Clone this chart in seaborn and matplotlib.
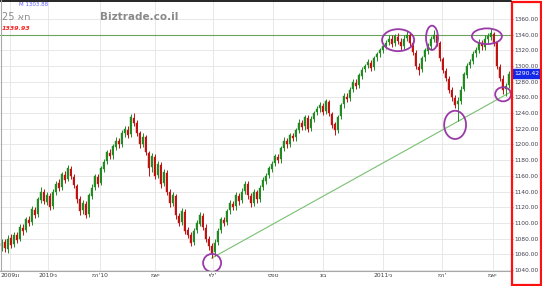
import matplotlib
matplotlib.use("Agg")
import matplotlib.pyplot as plt
from matplotlib.patches import Ellipse, Rectangle
import numpy as np
import pandas as pd
import seaborn as sns

# ---------------- data ----------------
opens = [
    1070,1076,1067,1081,1073,1084,1080,1094,1091,1104,
    1101,1117,1111,1129,1139,1127,1134,1121,1139,1151,
    1146,1161,1156,1169,1159,1147,1131,1116,1124,1111,
    1134,1146,1159,1151,1169,1179,1189,1186,1197,1204,
    1201,1214,1219,1213,1234,1227,1214,1201,1209,1189,
    1171,1184,1161,1174,1151,1164,1139,1126,1134,1109,
    1101,1114,1091,1084,1076,1091,1099,1109,1094,1079,
    1071,1063,1076,1091,1104,1101,1116,1124,1121,1134,
    1129,1141,1149,1134,1126,1139,1131,1146,1154,1161,
    1169,1176,1184,1181,1196,1204,1201,1211,1209,1219,
    1227,1223,1234,1221,1233,1241,1246,1249,1243,1254,
    1239,1226,1219,1236,1251,1261,1259,1271,1279,1276,
    1287,1296,1301,1304,1299,1311,1316,1321,1326,1331,
    1334,1329,1337,1331,1326,1336,1339,1329,1317,1299,
    1296,1311,1319,1326,1334,1339,1329,1309,1294,1284,
    1269,1259,1251,1256,1271,1289,1301,1306,1316,1321,
    1329,1324,1334,1337,1341,1329,1299,1284,1271,1276,
]
closes = [
    1075,1068,1080,1072,1085,1078,1095,1090,1105,1100,
    1118,1110,1130,1140,1128,1135,1120,1140,1150,1145,
    1162,1155,1170,1160,1148,1130,1115,1125,1110,1135,
    1145,1160,1150,1170,1178,1190,1185,1198,1205,1200,
    1215,1220,1212,1235,1228,1215,1200,1210,1190,1170,
    1185,1160,1175,1150,1165,1140,1125,1135,1110,1100,
    1115,1090,1085,1075,1090,1100,1110,1095,1080,1070,
    1062,1075,1090,1105,1100,1115,1125,1120,1135,1128,
    1140,1150,1135,1125,1140,1130,1145,1155,1160,1170,
    1175,1185,1180,1195,1205,1200,1212,1208,1218,1228,
    1222,1235,1220,1232,1240,1245,1250,1242,1255,1240,
    1225,1218,1235,1250,1262,1258,1270,1280,1275,1288,
    1295,1300,1305,1298,1310,1315,1320,1325,1330,1335,
    1328,1338,1332,1325,1335,1340,1330,1318,1300,1295,
    1310,1320,1325,1335,1340,1330,1310,1295,1285,1270,
    1260,1250,1255,1270,1290,1300,1305,1315,1320,1330,
    1325,1335,1338,1342,1330,1300,1285,1270,1275,1290.42,
]
highs = [
    1079,1080,1084,1086,1089,1088,1098,1099,1108,1109,
    1121,1120,1133,1146,1143,1139,1138,1143,1153,1156,
    1165,1166,1174,1173,1163,1150,1134,1129,1128,1138,
    1149,1163,1163,1173,1182,1193,1194,1201,1209,1208,
    1218,1224,1223,1239,1240,1231,1217,1214,1212,1192,
    1189,1188,1179,1178,1169,1168,1143,1139,1137,1113,
    1119,1118,1095,1088,1094,1104,1114,1113,1098,1083,
    1074,1079,1094,1108,1108,1118,1129,1128,1139,1138,
    1144,1154,1153,1138,1143,1142,1148,1159,1164,1173,
    1179,1188,1188,1198,1209,1208,1215,1215,1221,1232,
    1231,1238,1238,1236,1243,1249,1254,1253,1258,1257,
    1242,1229,1238,1253,1265,1265,1273,1284,1283,1291,
    1299,1303,1309,1308,1313,1318,1323,1329,1333,1339,
    1339,1341,1342,1336,1339,1345,1343,1333,1320,1304,
    1313,1323,1329,1338,1346,1343,1332,1312,1298,1287,
    1273,1263,1260,1274,1293,1304,1309,1319,1324,1334,
    1333,1339,1342,1347,1344,1332,1303,1288,1279,1294,
]
lows = [
    1064,1063,1062,1068,1069,1074,1077,1085,1088,1096,
    1097,1106,1108,1125,1124,1123,1116,1118,1135,1141,
    1142,1151,1153,1156,1144,1126,1110,1112,1106,1108,
    1130,1142,1146,1148,1165,1175,1181,1182,1193,1196,
    1197,1210,1208,1210,1224,1211,1195,1197,1186,1160,
    1165,1156,1157,1145,1147,1136,1120,1122,1105,1096,
    1097,1086,1081,1070,1072,1087,1096,1091,1076,1065,
    1055,1058,1072,1087,1096,1097,1112,1116,1117,1123,
    1125,1137,1131,1120,1122,1126,1127,1142,1150,1157,
    1165,1172,1176,1177,1192,1196,1197,1204,1205,1215,
    1218,1219,1216,1217,1229,1237,1242,1238,1239,1236,
    1221,1212,1215,1232,1247,1254,1255,1267,1271,1272,
    1283,1292,1297,1294,1295,1307,1312,1317,1322,1327,
    1324,1325,1328,1320,1322,1332,1326,1314,1296,1289,
    1292,1307,1315,1322,1331,1326,1306,1291,1281,1266,
    1256,1246,1230,1252,1268,1285,1297,1302,1312,1317,
    1320,1320,1330,1333,1326,1296,1281,1264,1262,1272,
]

tick_pos = [2.8, 15.5, 32.8, 51.2, 70.5, 90.5, 107.2, 127.2, 146.8, 163.8]
tick_labels = ["2009נו", "2010ינ", "מר'10", "מאי", "יול'", "ספט", "נוב",
               "2011ינ", "מר'", "מאי"]
y_ticks = list(range(1040, 1361, 20))

resistance = 1339.93
trend_x = [70.0, 169.8]
trend_y = [1055.0, 1267.0]

circle_x = [70.2, 132.2, 143.5, 161.8, 151.2, 167.2]
circle_y = [1049, 1333, 1336, 1338, 1225, 1264]
circle_w = [6.0, 10.7, 4.0, 10.0, 7.3, 5.3]
circle_h = [23, 28, 31, 20, 36, 18]

last_price = 1290.42

# ---------------- plot ----------------
sns.set_theme(style="white")
plt.rcParams['font.family'] = ['DejaVu Sans']

df = pd.DataFrame({"o": opens, "c": closes, "h": highs, "l": lows})
df["idx"] = np.arange(len(df))
df["up"] = df["c"] >= df["o"]
df["bot"] = df[["o", "c"]].min(axis=1)
df["top"] = df[["o", "c"]].max(axis=1)

W, H = 542, 286
fig = plt.figure(figsize=(W / 100, H / 100), dpi=100)
ax = fig.add_axes([0, 15 / H, 511 / W, 271 / H])

green = "#1f8a1f"
red = "#c01010"
colors = np.where(df["up"], green, red)

ax.vlines(df["idx"], df["l"], df["h"], colors=colors, lw=0.7, zorder=3)
ax.bar(df["idx"], (df["top"] - df["bot"]).clip(lower=0.8), bottom=df["bot"],
       width=0.6, color=colors, edgecolor=colors, lw=0.3, zorder=4)

ax.axhline(resistance, color="#6aa35a", lw=0.8, zorder=2)
trend_df = pd.DataFrame({"x": trend_x, "y": trend_y})
sns.lineplot(data=trend_df, x="x", y="y", ax=ax, color="#78c070", lw=0.8,
             zorder=2, legend=False)

for cx, cy, cw, ch in zip(circle_x, circle_y, circle_w, circle_h):
    ax.add_patch(Ellipse((cx, cy), cw, ch, fill=False, ec="#9a3aa8",
                         lw=1.3, zorder=6))

ax.set_xlim(-0.5, 169.83)
ax.set_ylim(1038.7, 1384.2)
ax.set_xlabel("")
ax.set_ylabel("")

ax.set_yticks(y_ticks)
ax.set_yticklabels([f"{v:.2f}" for v in y_ticks])
ax.yaxis.tick_right()
ax.tick_params(axis="y", labelsize=4.2, pad=1.2, length=1.5, width=0.5,
               colors="#c04040", labelcolor="#404050", direction="out",
               right=True)
ax.set_xticks(tick_pos)
ax.set_xticklabels(tick_labels)
ax.tick_params(axis="x", labelsize=4.3, pad=1.5, length=0, labelcolor="#404040")

ax.grid(True, color="#e4e4e4", lw=0.6)
ax.set_axisbelow(True)
for side in ["left", "right", "top"]:
    ax.spines[side].set_visible(False)
ax.spines["bottom"].set_color("#a8a8a8")
ax.spines["bottom"].set_linewidth(0.8)

# top border
fig.add_artist(plt.Line2D([0, 511 / W], [1 - 0.5 / H, 1 - 0.5 / H],
                          color="black", lw=1.2, transform=fig.transFigure))
fig.add_artist(plt.Line2D([0.5 / W, 0.5 / W], [15 / H, 1],
                          color="#a8a8a8", lw=0.8, transform=fig.transFigure))

# right red box
fig.add_artist(Rectangle((511.5 / W, 1.5 / H), 29.5 / W, 283 / H,
                         transform=fig.transFigure, fill=False,
                         ec="#ff1010", lw=1.6))

# last price marker
ax.annotate(f"{last_price:.2f}", xy=(1.0, last_price),
            xycoords=("axes fraction", "data"), xytext=(2.2, 0),
            textcoords="offset points", ha="left", va="center",
            fontsize=4.4, color="white",
            bbox=dict(boxstyle="square,pad=0.3", fc="#1428e8", ec="#1428e8"))

# header texts
fig.text(19 / W, 1 - 5 / H, "M 1303.88", fontsize=4, color="#6060ff",
         ha="left", va="center")
fig.text(2 / W, 1 - 17 / H, "25 אח", fontsize=7, color="#8a8a8a",
         ha="left", va="center")
fig.text(2 / W, 1 - 29 / H, "1339.93", fontsize=4.6, color="#ff2020",
         fontweight="bold", fontstyle="italic", ha="left", va="center")
fig.text(100 / W, 1 - 17 / H, "Biztrade.co.il", fontsize=7.5, color="#8a8a8a",
         fontweight="bold", ha="left", va="center")

fig.savefig("out.png", dpi=100)
